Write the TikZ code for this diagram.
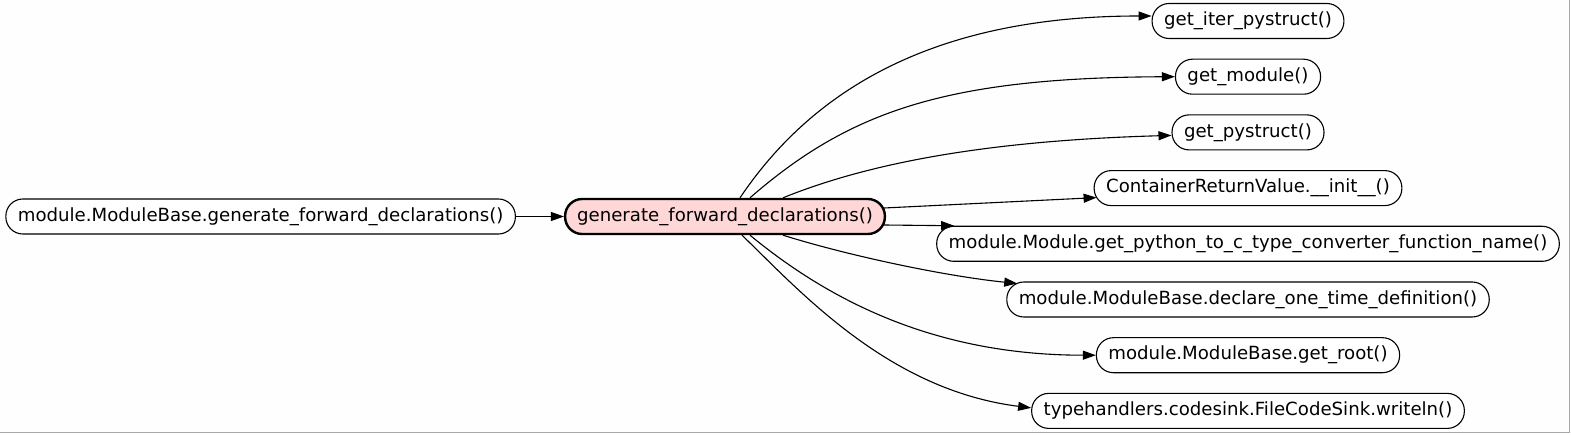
\documentclass[tikz,border=0pt]{standalone}
\usepackage{fontspec}
\setmainfont{DejaVu Sans}
\usepackage{xcolor}
\usetikzlibrary{arrows.meta,positioning}
\definecolor{focusfill}{HTML}{FFD7D7}
\definecolor{pagebg}{HTML}{FDFEFD}
\definecolor{pageedge}{HTML}{A8A8A8}
\tikzset{
  callnode/.style={
    rectangle, rounded corners=17pt, draw=black, line width=1.1pt,
    fill=white, minimum height=35pt, inner xsep=12pt, inner ysep=3pt,
    font=\fontsize{18.15}{22}\selectfont
  },
  focusnode/.style={callnode, fill=focusfill, line width=2.4pt},
  callarrow/.style={-{Triangle[length=13pt,width=9pt]}, line width=1.1pt, color=black},
}
\begin{document}
\begin{tikzpicture}[x=1pt,y=-1pt,node distance=19.6pt]
  \useasboundingbox (0,0) rectangle (1571,435);
  \fill[pagebg] (0,0) rectangle (1571,435);
  \draw[pageedge, line width=1pt] (0,432.5) -- (1569.5,432.5) -- (1569.5,0);

  \node[focusnode] (fwd) at (725,216.5) {generate\_forward\_declarations()};
  \node[callnode, left=48pt of fwd] (caller) {module.ModuleBase.generate\_forward\_declarations()};

  \node[callnode] (iter) at (1248,21) {get\_iter\_pystruct()};
  \node[callnode, below=of iter] (getmod) {get\_module()};
  \node[callnode, below=of getmod] (pystruct) {get\_pystruct()};
  \node[callnode, below=of pystruct] (crv) {ContainerReturnValue.\_\_init\_\_()};
  \node[callnode, below=of crv] (conv) {module.Module.get\_python\_to\_c\_type\_converter\_function\_name()};
  \node[callnode, below=of conv] (decl) {module.ModuleBase.declare\_one\_time\_definition()};
  \node[callnode, below=of decl] (root) {module.ModuleBase.get\_root()};
  \node[callnode, below=of root] (writeln) {typehandlers.codesink.FileCodeSink.writeln()};

  \draw[callarrow] (caller) -- (fwd);
  \draw[callarrow] ([xshift=15pt]fwd.north) .. controls +(70,-104) and +(-223,0) .. ([yshift=5pt]iter.west);
  \draw[callarrow] ([xshift=25pt]fwd.north) .. controls +(100,-87) and +(-228,1) .. (getmod.west);
  \draw[callarrow] ([xshift=58pt]fwd.north) .. controls +(67,-27) and +(-213,6) .. ([yshift=-3pt]pystruct.west);
  \draw[callarrow] ([xshift=-2pt,yshift=8.5pt]fwd.east) -- ([xshift=3pt,yshift=-9.5pt]crv.west);
  \draw[callarrow] ([xshift=-2pt,yshift=-8.5pt]fwd.east) -- ([xshift=18pt]conv.north west);
  \draw[callarrow] ([xshift=58pt]fwd.south) .. controls +(67,21) and +(-70,-7) .. ([xshift=11pt,yshift=-2pt]decl.north west);
  \draw[callarrow] ([xshift=25pt]fwd.south) .. controls +(80,66) and +(-160,0) .. (root.west);
  \draw[callarrow] ([xshift=17pt]fwd.south) .. controls +(58,56) and +(-143,-18) .. ([yshift=3pt]writeln.west);
\end{tikzpicture}
\end{document}
